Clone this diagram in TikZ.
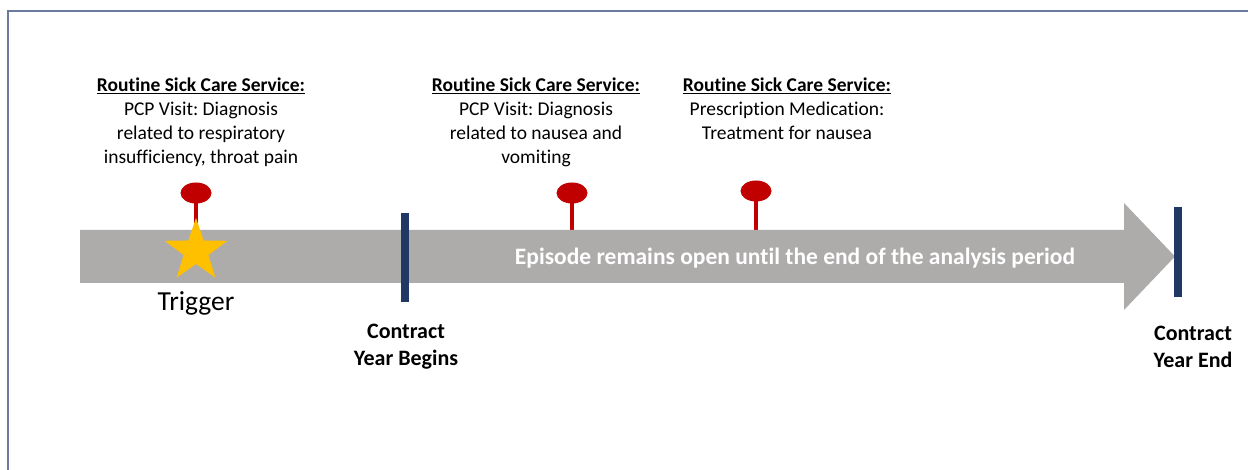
\documentclass[tikz,border=0pt]{standalone}
\usepackage{fontspec}
\setmainfont{Carlito}[Ligatures=NoCommon]
\usetikzlibrary{shapes.geometric,calc}
\definecolor{arrowgray}{HTML}{AEABAB}
\definecolor{pinred}{HTML}{C00000}
\definecolor{staryellow}{HTML}{FFC000}
\definecolor{navy}{HTML}{1F3864}
\definecolor{framecol}{HTML}{6A7B9E}
\frenchspacing
\begin{document}
\begin{tikzpicture}[x=1pt,y=-1pt,
  svc/.style={align=center,inner sep=0pt,anchor=north,font=\fontsize{19.5}{24}\selectfont},
  pinhead/.style={ellipse,fill=pinred,minimum width=31pt,minimum height=21pt,inner sep=0pt},
  stem/.style={draw=pinred,line width=4pt},
  bar/.style={draw=navy,line width=7.5pt},
  ctr/.style={align=center,inner sep=0pt,font=\bfseries\fontsize{22}{27}\selectfont},
]
\useasboundingbox (0,0) rectangle (1248,470);
% frame
\draw[framecol,line width=1.5pt] (8,470) -- (8,11) -- (1248,11);
% arrow top coordinate
\coordinate (atop) at (0,230);
% pins
\node[pinhead] (p1) at (196,193) {};
\node[pinhead] (p2) at (572,193) {};
\node[pinhead] (p3) at (756,191) {};
\foreach \p in {p1,p2,p3}{\draw[stem] (\p.center) -- (\p.center |- atop);}
% arrow
\fill[arrowgray] (80,230) -- (1124,230) -- (1124,203) -- (1175,256.5) -- (1124,310) -- (1124,283) -- (80,283) -- cycle;
\node[text=white,font=\bfseries\fontsize{23.5}{28}\selectfont,inner sep=0pt] (ep) at (795,258) {Episode remains open until the end of the analysis period};
% star
\coordinate (st) at (196,251);
\fill[staryellow] ($(st)+(0,-33)$)
  \foreach \k in {0,...,4}{ -- ($(st)+({-90+72*\k+36}:13)$) -- ($(st)+({-90+72*\k+72}:33)$)} -- cycle;
\node[font=\fontsize{27.5}{32}\selectfont,inner sep=0pt] (trig) at (196,303) {Trigger};
% bars
\coordinate (b1t) at (405,213); \coordinate (b1b) at (405,302);
\coordinate (b2t) at (1178,207); \coordinate (b2b) at (1178,297);
\draw[bar] (b1t) -- (b1b);
\draw[bar] (b2t) -- (b2b);
% service texts
\node[svc] (s1) at (201,77.5) {\textbf{\underline{Routine Sick Care Service:}}\\PCP Visit: Diagnosis\\related to respiratory\\insufficiency, throat pain};
\node[svc] (s2) at (536,77.5) {\textbf{\underline{Routine Sick Care Service:}}\\PCP Visit: Diagnosis\\related to nausea and\\vomiting};
\node[svc] (s3) at (787,77.5) {\textbf{\underline{Routine Sick Care Service:}}\\Prescription Medication:\\Treatment for nausea};
% contract labels
\node[ctr] (cb) at (406,347) {Contract\\Year Begins};
\node[ctr] (ce) at (1193,347) {Contract\\Year End};
\end{tikzpicture}
\end{document}
